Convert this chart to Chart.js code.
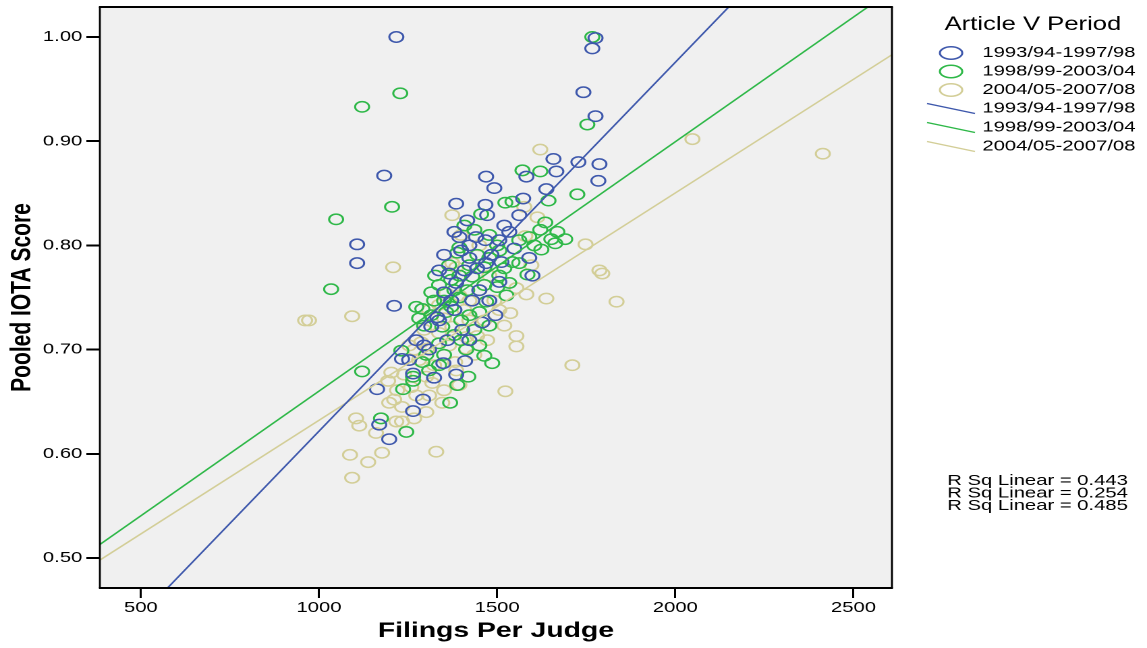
<!DOCTYPE html>
<html>
<head>
<meta charset="utf-8">
<title>Pooled IOTA Score by Filings Per Judge</title>
<script src="https://cdn.jsdelivr.net/npm/chart.js@4.4.1/dist/chart.umd.min.js"></script>
<style>
  html, body { margin: 0; padding: 0; background: #fff; overflow: hidden; }
  #wrap { width: 1147px; height: 648px; overflow: hidden; }
  /* SPSS export is stretched sideways, so the canvas is widened the same way */
  #chart { transform: scaleX(1.3494); transform-origin: 0 0; }
</style>
</head>
<body>
<div id="wrap"><canvas id="chart" width="850" height="648"></canvas></div>
<script>
// [filings per judge, pooled IOTA score]
const period1 = [
  [1217, 1.000], [1776, 0.999], [1767, 0.989], [1742, 0.947], [1776, 0.924],
  [1183, 0.867], [1107, 0.801], [1107, 0.783], [1211, 0.742], [1658, 0.883],
  [1728, 0.880], [1787, 0.878], [1666, 0.871], [1582, 0.866], [1469, 0.866],
  [1784, 0.862], [1492, 0.855], [1638, 0.854], [1573, 0.845], [1385, 0.840],
  [1467, 0.839], [1495, 0.733], [1233, 0.691], [1163, 0.662], [1264, 0.677],
  [1323, 0.673], [1385, 0.676], [1410, 0.689], [1349, 0.687], [1292, 0.652],
  [1264, 0.641], [1169, 0.628], [1197, 0.614], [1590, 0.788], [1599, 0.771],
  [1458, 0.726], [1422, 0.709], [1402, 0.719], [1332, 0.731], [1273, 0.709],
  [1315, 0.722], [1484, 0.791], [1469, 0.783], [1512, 0.784], [1365, 0.773],
  [1385, 0.764], [1394, 0.808], [1441, 0.808], [1430, 0.747], [1450, 0.757],
  [1380, 0.813], [1416, 0.824], [1520, 0.819], [1422, 0.788], [1351, 0.791],
  [1506, 0.805], [1548, 0.797], [1478, 0.747], [1351, 0.755], [1380, 0.738],
  [1309, 0.700], [1360, 0.709], [1562, 0.829], [1472, 0.829], [1408, 0.776],
  [1337, 0.776], [1399, 0.795], [1444, 0.778], [1371, 0.747], [1337, 0.728],
  [1295, 0.704], [1253, 0.690], [1467, 0.805], [1534, 0.813], [1506, 0.765],
  [1422, 0.800]
];
const period2 = [
  [1767, 1.000], [1228, 0.946], [1121, 0.933], [1753, 0.916], [1205, 0.837],
  [1048, 0.825], [1034, 0.758], [1121, 0.679], [1725, 0.849], [1571, 0.872],
  [1621, 0.871], [1644, 0.843], [1523, 0.841], [1543, 0.842], [1455, 0.830],
  [1635, 0.822], [1621, 0.815], [1669, 0.813], [1691, 0.806], [1652, 0.806],
  [1663, 0.802], [1624, 0.796], [1585, 0.772], [1526, 0.752], [1394, 0.798],
  [1388, 0.793], [1326, 0.771], [1315, 0.755], [1273, 0.741], [1290, 0.739],
  [1231, 0.699], [1264, 0.674], [1264, 0.670], [1236, 0.662], [1174, 0.634],
  [1245, 0.621], [1368, 0.649], [1388, 0.666], [1419, 0.674], [1464, 0.694],
  [1486, 0.687], [1430, 0.770], [1394, 0.750], [1464, 0.779], [1500, 0.760],
  [1590, 0.808], [1604, 0.800], [1562, 0.783], [1543, 0.784], [1422, 0.733],
  [1450, 0.736], [1469, 0.746], [1371, 0.741], [1357, 0.736], [1346, 0.722],
  [1413, 0.700], [1290, 0.688], [1301, 0.695], [1337, 0.706], [1408, 0.819],
  [1436, 0.815], [1478, 0.810], [1506, 0.795], [1444, 0.791], [1365, 0.781],
  [1337, 0.762], [1399, 0.728], [1380, 0.714], [1436, 0.719], [1478, 0.723],
  [1323, 0.747], [1295, 0.723], [1351, 0.695], [1309, 0.680], [1506, 0.771],
  [1534, 0.764], [1416, 0.757], [1371, 0.767], [1520, 0.778], [1281, 0.730],
  [1380, 0.757], [1422, 0.781], [1464, 0.762], [1351, 0.747], [1315, 0.733],
  [1399, 0.709], [1450, 0.704], [1337, 0.685], [1500, 0.800], [1562, 0.805],
  [1394, 0.771], [1478, 0.788]
];
const period3 = [
  [1621, 0.892], [2048, 0.902], [2414, 0.888], [1374, 0.829], [1576, 0.837],
  [1613, 0.827], [1579, 0.809], [1748, 0.801], [1208, 0.779], [1596, 0.781],
  [1787, 0.776], [1795, 0.773], [1554, 0.759], [1582, 0.753], [1638, 0.749],
  [1835, 0.746], [1537, 0.735], [961, 0.728], [972, 0.728], [1093, 0.732],
  [1554, 0.713], [1554, 0.703], [1711, 0.685], [1523, 0.660], [1444, 0.713],
  [1413, 0.701], [1382, 0.688], [1385, 0.680], [1346, 0.649], [1318, 0.668],
  [1301, 0.640], [1267, 0.634], [1233, 0.631], [1217, 0.631], [1197, 0.649],
  [1160, 0.620], [1104, 0.634], [1113, 0.627], [1087, 0.599], [1138, 0.592],
  [1177, 0.601], [1329, 0.602], [1093, 0.577], [1194, 0.670], [1219, 0.661],
  [1203, 0.678], [1253, 0.704], [1287, 0.707], [1304, 0.701], [1337, 0.716],
  [1374, 0.722], [1385, 0.779], [1357, 0.754], [1413, 0.712], [1301, 0.674],
  [1374, 0.783], [1259, 0.664], [1233, 0.645], [1273, 0.656], [1351, 0.730],
  [1408, 0.738], [1464, 0.728], [1492, 0.747], [1450, 0.757], [1478, 0.771],
  [1422, 0.747], [1394, 0.666], [1309, 0.656], [1281, 0.690], [1323, 0.685],
  [1506, 0.738], [1436, 0.695], [1472, 0.709], [1520, 0.723], [1399, 0.810],
  [1450, 0.800], [1337, 0.743], [1295, 0.719], [1267, 0.700], [1365, 0.704],
  [1239, 0.676], [1351, 0.661], [1422, 0.728], [1309, 0.738], [1394, 0.752],
  [1211, 0.652]
];

const periods = ["1993/94-1997/98", "1998/99-2003/04", "2004/05-2007/08"];
const colors = ["#3e58ac", "#2eb848", "#d3ce97"];
const rSquared = [0.443, 0.254, 0.485];

// linear fit end points, one pair per period
const fitX = [385, 2608];
const fitY = [[0.404, 1.191], [0.513, 1.045], [0.498, 0.983]];

const xTicks = [500, 1000, 1500, 2000, 2500];
const yTicks = [0.5, 0.6, 0.7, 0.8, 0.9, 1.0];

const FONT = "'Liberation Sans', Arial, sans-serif";
Chart.defaults.font.family = FONT;
Chart.defaults.color = "#000";

const seriesData = [period1, period2, period3];

const datasets = [];
seriesData.forEach((rows, i) => {
    datasets.push({
        label: periods[i],
        data: rows.map(r => ({ x: r[0], y: r[1] })),
        borderColor: colors[i],
        backgroundColor: "rgba(0,0,0,0)",
        pointRadius: 5.2,
        pointBorderWidth: 1.5,
        order: 1,
    });
});
fitY.forEach((ys, i) => {
    datasets.push({
        label: periods[i] + " fit",
        data: fitX.map((x, k) => ({ x: x, y: ys[k] })),
        showLine: true,
        borderColor: colors[i],
        borderWidth: 1.4,
        pointRadius: 0,
        clip: 0,
        order: 0,
    });
});

const plotFrame = {
    id: "plotFrame",
    beforeDraw(chart) {
        const { ctx, chartArea: a } = chart;
        ctx.save();
        ctx.fillStyle = "#fff";
        ctx.fillRect(0, 0, chart.width, chart.height);
        ctx.fillStyle = "#f0f0f0";
        ctx.fillRect(a.left, a.top, a.right - a.left, a.bottom - a.top);
        ctx.restore();
    },
    afterDraw(chart) {
        const { ctx, chartArea: a } = chart;
        ctx.save();
        ctx.strokeStyle = "#000";
        // horizontal edges
        ctx.lineWidth = 2;
        ctx.beginPath();
        ctx.moveTo(a.left - 0.7, a.top); ctx.lineTo(a.right + 0.7, a.top);
        ctx.moveTo(a.left - 0.7, a.bottom); ctx.lineTo(a.right + 0.7, a.bottom);
        ctx.stroke();
        // vertical edges (widened by the stretch)
        ctx.lineWidth = 1.4;
        ctx.beginPath();
        ctx.moveTo(a.left, a.top); ctx.lineTo(a.left, a.bottom);
        ctx.moveTo(a.right, a.top); ctx.lineTo(a.right, a.bottom);
        ctx.stroke();

        // legend
        ctx.fillStyle = "#000";
        ctx.textBaseline = "middle";
        ctx.textAlign = "left";
        ctx.font = "19px " + FONT;
        ctx.fillText("Article V Period", 700, 25);
        ctx.font = "15px " + FONT;
        periods.forEach((p, i) => {
            const y = 53 + i * 18.5;
            ctx.strokeStyle = colors[i];
            ctx.lineWidth = 1.5;
            ctx.beginPath();
            ctx.ellipse(704.8, y, 8.3, 6.2, 0, 0, Math.PI * 2);
            ctx.stroke();
            ctx.fillText(p, 728, y);
        });
        periods.forEach((p, i) => {
            const y = 108.5 + i * 19;
            ctx.strokeStyle = colors[i];
            ctx.lineWidth = 1.4;
            ctx.beginPath();
            ctx.moveTo(687, y - 5);
            ctx.lineTo(722.5, y + 5);
            ctx.stroke();
            ctx.fillText(p, 728, y);
        });

        // fit statistics
        rSquared.forEach((r, i) => {
            ctx.fillText("R Sq Linear = " + r.toFixed(3), 702, 481 + i * 12.5);
        });
        ctx.restore();
    }
};

const ctx = document.getElementById("chart").getContext("2d");
const chart = new Chart(ctx, {
    type: "scatter",
    data: { datasets: datasets },
    options: {
        responsive: false,
        animation: false,
        devicePixelRatio: 2,
        layout: { padding: { left: 0, right: 189, top: 7, bottom: 0 } },
        plugins: {
            legend: { display: false },
            tooltip: { enabled: false },
        },
        scales: {
            x: {
                type: "linear",
                min: 385,
                max: 2608,
                afterBuildTicks: (scale) => { scale.ticks = xTicks.map(v => ({ value: v })); },
                afterFit: (scale) => {
                    scale.height = 60;
                    scale.paddingLeft = 0;
                    scale.paddingRight = 0;
                },
                grid: { drawOnChartArea: false, drawTicks: true, tickLength: 10, color: "#000", lineWidth: 1.5 },
                border: { display: false },
                ticks: {
                    color: "#000",
                    font: { size: 15 },
                    padding: 1,
                    maxRotation: 0,
                    autoSkip: false,
                    callback: (v) => String(v),
                },
                title: {
                    display: true,
                    text: "Filings Per Judge",
                    color: "#000",
                    font: { size: 21, weight: "bold" },
                    padding: { top: 0, bottom: 4 },
                },
            },
            y: {
                type: "linear",
                min: 0.4712,
                max: 1.0288,
                afterBuildTicks: (scale) => { scale.ticks = yTicks.map(v => ({ value: v })); },
                afterFit: (scale) => {
                    scale.width = 74;
                    scale.paddingTop = 0;
                    scale.paddingBottom = 0;
                },
                grid: { drawOnChartArea: false, drawTicks: true, tickLength: 10, color: "#000", lineWidth: 2 },
                border: { display: false },
                ticks: {
                    color: "#000",
                    font: { size: 15 },
                    padding: 3,
                    autoSkip: false,
                    callback: (v) => v.toFixed(2),
                },
                title: {
                    display: true,
                    text: "Pooled IOTA Score",
                    color: "#000",
                    font: { size: 21, weight: "bold" },
                    padding: { top: 4, bottom: 4 },
                },
            },
        },
    },
    plugins: [plotFrame],
});
</script>
</body>
</html>
